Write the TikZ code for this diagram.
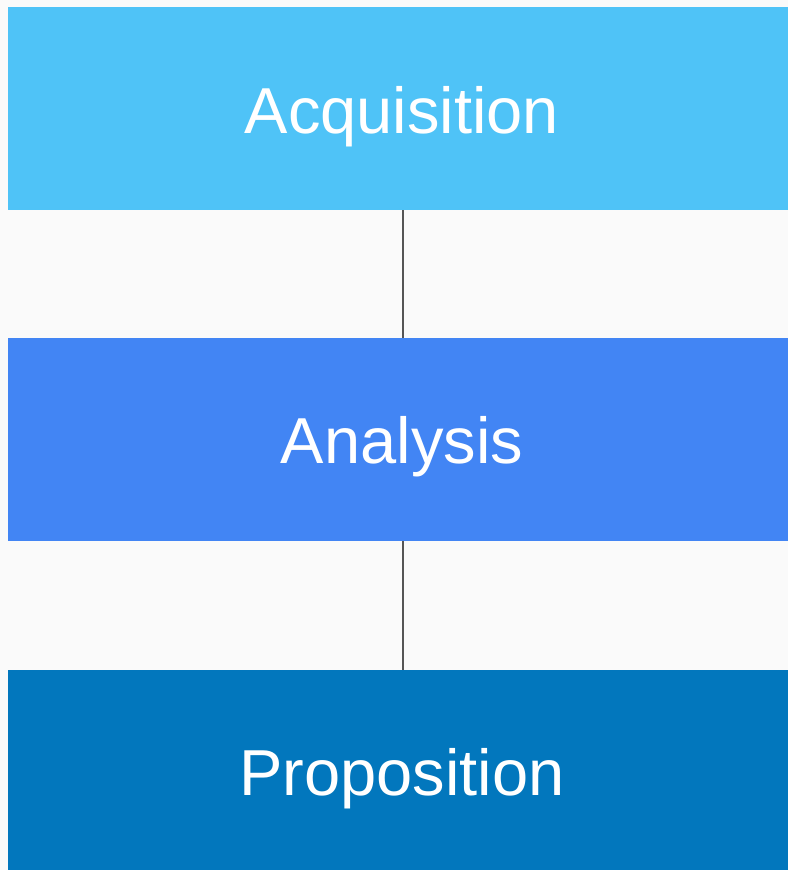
\documentclass[tikz,border=0pt]{standalone}
\usepackage{fontspec}
\setmainfont{Liberation Sans}
\definecolor{bgc}{HTML}{FAFAFA}
\definecolor{stageA}{HTML}{4FC3F7}
\definecolor{stageB}{HTML}{4285F4}
\definecolor{stageC}{HTML}{0277BD}
\definecolor{linkc}{HTML}{555555}
\begin{document}
\begin{tikzpicture}[x=1pt,y=-1pt,
  label/.style={text=white,font=\fontsize{65}{70}\selectfont,anchor=base,inner sep=0pt},
  link/.style={draw=linkc,line width=2pt}]
  \fill[bgc] (0,0) rectangle (788,870);
  \useasboundingbox (0,0) rectangle (788,870);
  % stage bands
  \fill[stageA] (8,7) rectangle (788,210);
  \fill[stageB] (8,338) rectangle (788,541);
  \fill[stageC] (8,670) rectangle (788,870);
  \coordinate (aBot) at (403,210);
  \coordinate (bTop) at (403,338);
  \coordinate (bBot) at (403,541);
  \coordinate (cTop) at (403,670);
  \node[label] (acq) at (402,133) {Acquisition};
  \node[label] (ana) at (402,463) {Analysis};
  \node[label] (pro) at (402,795) {Proposition};
  \draw[link] (aBot) -- (bTop);
  \draw[link] (bBot) -- (cTop);
\end{tikzpicture}
\end{document}
